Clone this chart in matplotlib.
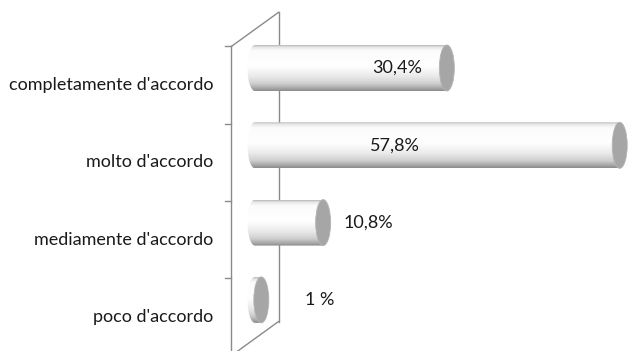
import numpy as np
import matplotlib
matplotlib.use('Agg')
import matplotlib.pyplot as plt
from matplotlib.patches import Ellipse, PathPatch
from matplotlib.path import Path
from matplotlib.colors import LinearSegmentedColormap

CATEGORIES = ["completamente d'accordo", "molto d'accordo", "mediamente d'accordo", "poco d'accordo"]
VALUES = [30.4, 57.8, 10.8, 1.0]
VALUE_LABELS = ['30,4%', '57,8%', '10,8%', '1 %']

W, H = 628, 351
X0_PX = 255      # pixel of value 0 (mid depth)
SX = 6.31        # pixels per percent
Y0_PX = 68       # pixel row of first bar centre
SY = 77.3        # pixels per category
DEPTH_X = 47 / SX
DEPTH_Y = 34 / SY
BAR_H = 46 / SY
CAP_W = 15 / SX
LINE_COL = '#8a8a8a'
FONT = 'Lato'
FSIZE = 13

# where the value labels sit (excel puts them oddly)
label_pos = [22.5, 22.2, 17.9, 10.3]

fig = plt.figure(figsize=(W / 100, H / 100), dpi=100)
ax = fig.add_axes([0, 0, 1, 1])
ax.set_xlim(-X0_PX / SX, (W - X0_PX) / SX)
ax.set_ylim((H - Y0_PX) / SY, -Y0_PX / SY)
ax.axis('off')

n = len(CATEGORIES)
fx, bx = -DEPTH_X / 2, DEPTH_X / 2
ftop, fbot = -0.5 + DEPTH_Y / 2, n - 0.5 + DEPTH_Y / 2
btop, bbot = -0.5 - DEPTH_Y / 2, n - 0.5 - DEPTH_Y / 2

# walls
ax.plot([fx, fx], [ftop, fbot], color=LINE_COL, lw=1.0, zorder=1)
ax.plot([bx, bx], [btop, bbot], color=LINE_COL, lw=1.0, zorder=1)
ax.plot([fx, bx], [ftop, btop], color=LINE_COL, lw=1.0, zorder=1)
ax.plot([fx, bx], [fbot, bbot], color=LINE_COL, lw=1.0, zorder=1)
tick_len = 6 / SX
for k in range(n + 1):
    yk = k - 0.5 + DEPTH_Y / 2
    ax.plot([fx - tick_len, fx], [yk, yk], color=LINE_COL, lw=1.0, zorder=1)

# cylinder shading, top to bottom
shade = LinearSegmentedColormap.from_list('cyl', [
    (0.0, '#b8b8b8'), (0.04, '#e6e6e6'), (0.12, '#fbfbfb'), (0.45, '#ffffff'),
    (0.68, '#eaeaea'), (0.84, '#cfcfcf'), (0.95, '#a4a4a4'), (1.0, '#8c8c8c')])
grad = np.linspace(0, 1, 200).reshape(-1, 1)

t = np.linspace(np.pi / 2, 3 * np.pi / 2, 40)
for i, (v, lab) in enumerate(zip(VALUES, VALUE_LABELS)):
    top, bot = i - BAR_H / 2, i + BAR_H / 2
    # body outline: left half ellipse + rectangle up to the value
    xs = list(CAP_W / 2 * np.cos(t)) + [v, v]
    ys = list(i - BAR_H / 2 * np.sin(t)) + [bot, top]
    verts = list(zip(xs, ys)) + [(xs[0], ys[0])]
    body = PathPatch(Path(verts, closed=True), fc='none', ec='none')
    ax.add_patch(body)
    img = ax.imshow(grad, cmap=shade, extent=[-CAP_W / 2, v, bot, top],
                    aspect='auto', interpolation='bilinear', zorder=2)
    img.set_clip_path(body)
    cap = Ellipse((v, i), CAP_W, BAR_H, fc='#a6a6a6', ec='#b4b4b4', lw=0.6, zorder=3)
    ax.add_patch(cap)
    ax.text(label_pos[i], i, lab, ha='center', va='center', fontsize=FSIZE,
            family=FONT, color='#1a1a1a', zorder=4)

for i, cat in enumerate(CATEGORIES):
    ax.text(fx - 18 / SX, i + DEPTH_Y / 2, cat, ha='right', va='center',
            fontsize=FSIZE, family=FONT, color='#1a1a1a')

fig.savefig('out.png', dpi=100)
